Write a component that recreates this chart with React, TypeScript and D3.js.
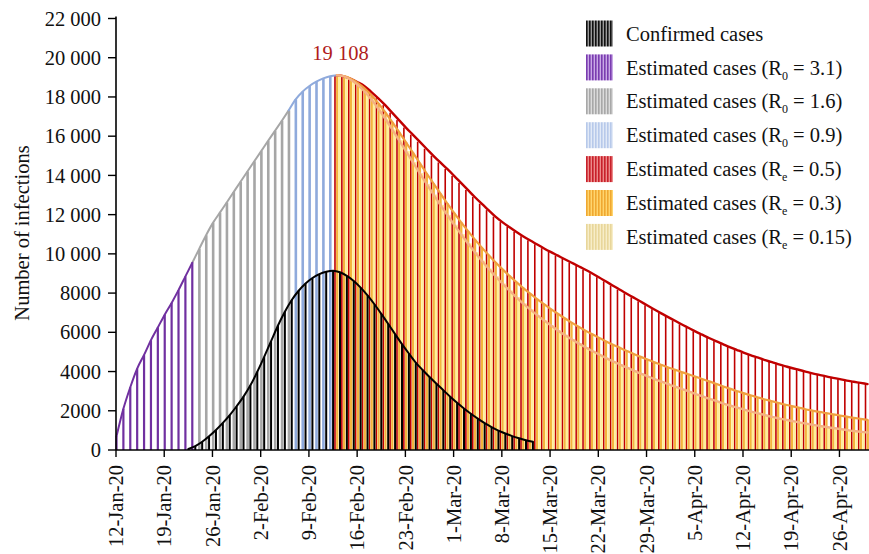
import React from "react";
import * as d3 from "d3";

// ---------- data ----------
const xTickLabels = [
  "12-Jan-20", "19-Jan-20", "26-Jan-20", "2-Feb-20", "9-Feb-20", "16-Feb-20", "23-Feb-20",
  "1-Mar-20", "8-Mar-20", "15-Mar-20", "22-Mar-20", "29-Mar-20", "5-Apr-20", "12-Apr-20",
  "19-Apr-20", "26-Apr-20",
];
const domainEndLabel = "1-May-20";
const yTicks = [0, 2000, 4000, 6000, 8000, 10000, 12000, 14000, 16000, 18000, 20000, 22000];

// day index 0 = 12-Jan-20
const purpleStart = 0; // R0 = 3.1
const purpleValues = [700, 2100, 3200, 4150, 4850, 5600, 6250, 6900, 7500, 8150, 8850, 9550];

const grayStart = 12; // R0 = 1.6
const grayValues = [10250, 10950, 11580, 12100, 12620, 13150, 13680, 14200, 14720, 15240, 15760, 16270, 16790, 17320];

const blueStart = 26; // R0 = 0.9
const blueValues = [17880, 18270, 18560, 18780, 18950, 19060];

const reStart = 32; // Re series begin at the peak
const redValues = [ // Re = 0.5
  19108, 19050, 18920, 18750, 18550, 18250, 17930, 17580, 17200, 16820,
  16440, 16080, 15720, 15360, 15000, 14660, 14330, 13980, 13620, 13260,
  12900, 12560, 12230, 11900, 11620, 11370, 11130, 10900, 10690, 10490,
  10290, 10100, 9920, 9740, 9560, 9380, 9200, 9010, 8810, 8600,
  8390, 8180, 7980, 7780, 7580, 7380, 7180, 6980, 6790, 6600,
  6410, 6230, 6050, 5880, 5710, 5550, 5400, 5250, 5110, 4970,
  4840, 4720, 4600, 4490, 4380, 4280, 4180, 4090, 4000, 3910,
  3830, 3750, 3680, 3610, 3540, 3480, 3420, 3360,
];
const orangeValues = [ // Re = 0.3
  19108, 19060, 18930, 18720, 18440, 18090, 17680, 17220, 16730, 16220,
  15700, 15170, 14640, 14110, 13590, 13080, 12580, 12090, 11620, 11170,
  10740, 10330, 9940, 9570, 9220, 8890, 8570, 8270, 7980, 7710,
  7450, 7200, 6960, 6730, 6510, 6300, 6100, 5910, 5730, 5550,
  5380, 5220, 5060, 4910, 4760, 4620, 4480, 4350, 4220, 4100,
  3980, 3860, 3740, 3620, 3500, 3380, 3250, 3130, 3010, 2900,
  2790, 2690, 2590, 2500, 2410, 2320, 2240, 2160, 2080, 2010,
  1940, 1880, 1820, 1760, 1700, 1640, 1590, 1540,
];
const peachValues = [ // Re = 0.15
  19108, 19050, 18880, 18620, 18280, 17870, 17400, 16890, 16350, 15800,
  15240, 14680, 14120, 13570, 13030, 12500, 11990, 11490, 11010, 10540,
  10090, 9660, 9250, 8860, 8490, 8140, 7800, 7480, 7180, 6890,
  6620, 6360, 6110, 5880, 5660, 5450, 5250, 5060, 4880, 4700,
  4530, 4370, 4210, 4060, 3910, 3770, 3630, 3500, 3370, 3240,
  3120, 2990, 2860, 2740, 2620, 2510, 2380, 2270, 2170, 2070,
  1970, 1880, 1790, 1700, 1620, 1550, 1480, 1410, 1350, 1290,
  1230, 1170, 1120, 1070, 1020, 970, 930, 890,
];

const confirmedStart = 10;
const confirmedValues = [
  50, 200, 420, 700, 1020, 1380, 1780, 2230, 2720, 3300,
  3990, 4750, 5550, 6350, 7050, 7650, 8120, 8490, 8770, 8970,
  9090, 9140, 9060, 8880, 8620, 8280, 7880, 7430, 6940, 6430,
  5910, 5400, 4920, 4460, 4080, 3720, 3380, 3050, 2720, 2410,
  2120, 1850, 1600, 1370, 1170, 990, 840, 710, 600, 500, 420,
];

const peakLabel = "19 108";

const legendLabels = [
  { text: "Confirmed cases", sub: "", tail: "" },
  { text: "Estimated cases (R", sub: "0", tail: " = 3.1)" },
  { text: "Estimated cases (R", sub: "0", tail: " = 1.6)" },
  { text: "Estimated cases (R", sub: "0", tail: " = 0.9)" },
  { text: "Estimated cases (R", sub: "e", tail: " = 0.5)" },
  { text: "Estimated cases (R", sub: "e", tail: " = 0.3)" },
  { text: "Estimated cases (R", sub: "e", tail: " = 0.15)" },
];

// ---------- styles ----------
const C = {
  confirmed: "#000000",
  purple: "#7030a0",
  gray: "#a6a6a6",
  blue: "#8faadc",
  red: "#c00000",
  orange: "#f4b43c",
  orangeLine: "#f0a040",
  pale: "#ffef98",
  peachLine: "#f4b183",
};
const swatch = [
  { fg: "#111111", bg: "#9a9a9a" },
  { fg: "#7a3cb0", bg: "#c9a9e6" },
  { fg: "#a8a8a8", bg: "#dcdcdc" },
  { fg: "#b7c9ea", bg: "#e2eaf7" },
  { fg: "#c8202a", bg: "#ec8a8a" },
  { fg: "#f0a830", bg: "#ffd56e" },
  { fg: "#e8d69a", bg: "#f7edc8" },
];

const FONT = "'Liberation Serif', 'Times New Roman', Times, serif";
const W = 869;
const H = 554;
const X0 = 116;
const Y0 = 450;

const parse = d3.utcParse("%d-%b-%y");
const startDate = parse(xTickLabels[0]) as Date;
const endDate = parse(domainEndLabel) as Date;
const nDays = d3.utcDay.count(startDate, endDate);
const x = d3.scaleUtc().domain([startDate, endDate]).range([X0, X0 + nDays * 6.89]);
const y = d3.scaleLinear().domain([0, 22000]).range([Y0, 18.5]);
const xd = (day: number) => x(d3.utcDay.offset(startDate, day));

type P = { day: number; v: number };
const toPts = (start: number, vals: number[]): P[] => vals.map((v, i) => ({ day: start + i, v }));

const purplePts = toPts(purpleStart, purpleValues);
const grayPts = toPts(grayStart, grayValues);
const bluePts = toPts(blueStart, blueValues);
const redPts = toPts(reStart, redValues);
const orangePts = toPts(reStart, orangeValues);
const peachPts = toPts(reStart, peachValues);
const confPts = toPts(confirmedStart, confirmedValues);

const fmtTick = (t: number) => (t >= 10000 ? d3.format(",")(t).replace(",", " ") : String(t));

function Bars({ pts, off, w, fill }: { pts: P[]; off: number; w: number; fill: string }) {
  return (
    <g>
      {pts.map((p) => (
        <rect key={p.day} x={xd(p.day) + off} y={y(p.v)} width={w} height={Y0 - y(p.v)} fill={fill} />
      ))}
    </g>
  );
}

function Line({ pts, off, color, width }: { pts: P[]; off: number; color: string; width: number }) {
  const gen = d3
    .line<P>()
    .x((p) => xd(p.day) + off)
    .y((p) => y(p.v))
    .curve(d3.curveMonotoneX);
  return <path d={gen(pts) || ""} fill="none" stroke={color} strokeWidth={width} strokeLinejoin="round" strokeLinecap="round" />;
}

export default function App() {
  const estOff = -0.6;
  const estW = 2.2;
  const estC = estOff + estW / 2;
  const legendX = 586;
  const legendY0 = 20.5;
  const legendStep = 33.9;

  return (
    <svg width={W} height={H} style={{ display: "block", position: "absolute", left: 0, top: 0, background: "#fff" }} fontFamily={FONT}>
      <defs>
        {swatch.map((s, i) => (
          <pattern key={i} id={`sw${i}`} width={3} height={10} patternUnits="userSpaceOnUse" x={legendX}>
            <rect width={3} height={10} fill={s.bg} />
            <rect width={1.6} height={10} fill={s.fg} />
          </pattern>
        ))}
      </defs>

      {/* estimated early phase bars */}
      <Bars pts={purplePts} off={estOff} w={estW} fill={C.purple} />
      <Bars pts={grayPts} off={estOff} w={estW + 0.4} fill={C.gray} />
      <Bars pts={bluePts} off={estOff} w={estW + 0.4} fill={C.blue} />

      {/* Re phase bars */}
      <Bars pts={redPts} off={-2.3} w={1.6} fill={C.red} />
      <Bars pts={orangePts} off={-0.4} w={2.3} fill={C.orange} />
      <Bars pts={peachPts} off={2.1} w={2.3} fill={C.pale} />

      {/* confirmed bars */}
      <Bars pts={confPts} off={2.5} w={2.0} fill={C.confirmed} />

      {/* curves */}
      <Line pts={[purplePts[purplePts.length - 1], ...grayPts]} off={estC} color={C.gray} width={2} />
      <Line pts={[grayPts[grayPts.length - 1], ...bluePts, redPts[0]]} off={estC} color={C.blue} width={2} />
      <Line pts={purplePts} off={estC} color={C.purple} width={2} />
      <Line pts={redPts} off={estC} color={C.red} width={2.4} />
      <Line pts={orangePts} off={estC} color={C.orangeLine} width={2.2} />
      <Line pts={peachPts} off={estC} color={C.peachLine} width={2.4} />
      <Line pts={confPts} off={3.5} color={C.confirmed} width={2} />

      {/* peak label */}
      <text x={xd(reStart) + 4} y={60} textAnchor="middle" fontSize={20.5} fill="#b01c1c">
        {peakLabel}
      </text>

      {/* axes */}
      <line x1={X0} x2={X0} y1={16.5} y2={Y0} stroke="#000" strokeWidth={1.6} />
      <line x1={X0} x2={W} y1={Y0} y2={Y0} stroke="#000" strokeWidth={1.6} />
      {yTicks.map((t) => (
        <g key={t}>
          <line x1={108} x2={X0} y1={y(t)} y2={y(t)} stroke="#000" strokeWidth={1.4} />
          <text x={101} y={y(t)} dy="0.35em" textAnchor="end" fontSize={20.5} fill="#111">
            {fmtTick(t)}
          </text>
        </g>
      ))}
      {xTickLabels.map((lab) => {
        const tx = x(parse(lab) as Date);
        return (
          <g key={lab}>
            <line x1={tx} x2={tx} y1={Y0} y2={Y0 + 7} stroke="#000" strokeWidth={1.4} />
            <text transform={`translate(${tx},${465}) rotate(-90)`} dy="0.35em" textAnchor="end" fontSize={20.5} fill="#111">
              {lab}
            </text>
          </g>
        );
      })}
      <text transform="translate(22,233) rotate(-90)" dy="0.35em" textAnchor="middle" fontSize={20.5} fill="#111">
        Number of infections
      </text>

      {/* legend */}
      {legendLabels.map((l, i) => {
        const ty = legendY0 + i * legendStep;
        return (
          <g key={i}>
            <rect x={legendX} y={ty} width={27} height={26} fill={`url(#sw${i})`} />
            <text x={626} y={ty + 13} dy="0.35em" fontSize={20.5} fill="#111">
              {l.text}
              {l.sub && (
                <tspan fontSize={12} dy="5">
                  {l.sub}
                </tspan>
              )}
              {l.tail && <tspan dy={l.sub ? "-5" : "0"}>{l.tail}</tspan>}
            </text>
          </g>
        );
      })}
    </svg>
  );
}
